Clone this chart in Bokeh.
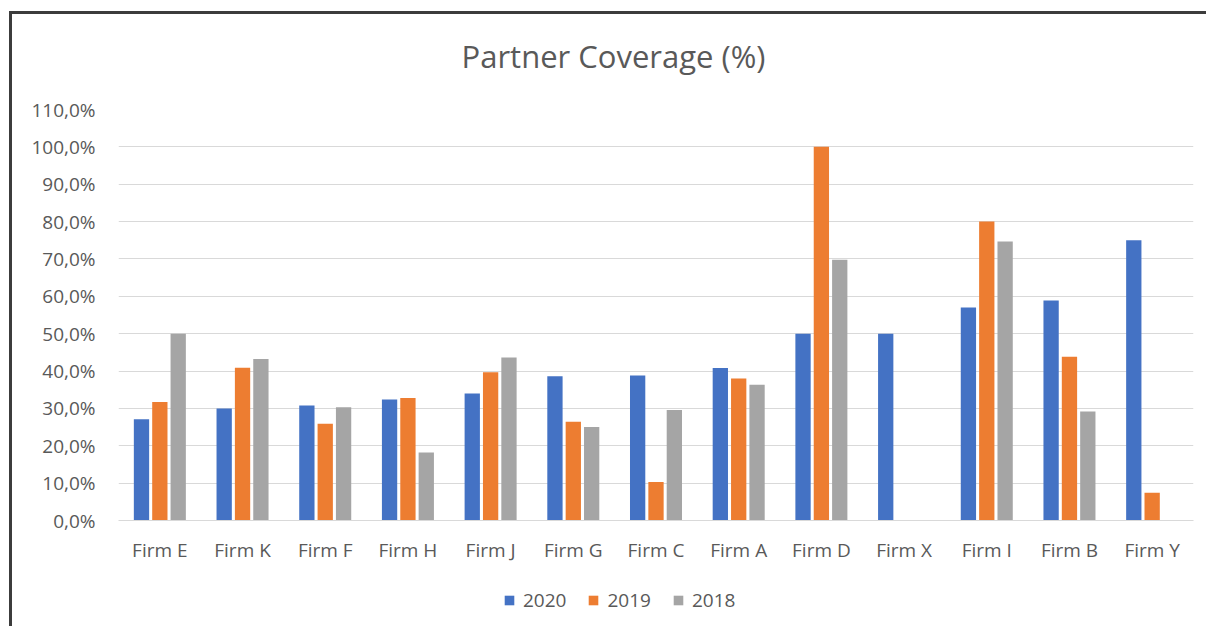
from bokeh.plotting import figure
from bokeh.models import (ColumnDataSource, FixedTicker, CustomJSTickFormatter, Legend,
                          LegendItem, Label, Range1d)
from bokeh.layouts import column
from bokeh.transform import dodge
from bokeh.embed import file_html
from bokeh.resources import INLINE
import math

firms = ["Firm E", "Firm K", "Firm F", "Firm H", "Firm J", "Firm G", "Firm C",
         "Firm A", "Firm D", "Firm X", "Firm I", "Firm B", "Firm Y"]
v2020 = [27.1, 30.0, 30.8, 32.4, 34.0, 38.6, 38.8, 40.8, 50.0, 50.0, 57.0, 58.9, 75.0]
v2019 = [31.7, 40.9, 25.9, 32.8, 39.7, 26.4, 10.3, 38.0, 100.0, math.nan, 80.0, 43.8, 7.4]
v2018 = [50.0, 43.2, 30.3, 18.2, 43.6, 25.0, 29.6, 36.3, 69.8, math.nan, 74.7, 29.2, math.nan]
years = ["2020", "2019", "2018"]
y_ticks = [0, 10, 20, 30, 40, 50, 60, 70, 80, 90, 100, 110]
title_text = "Partner Coverage (%)"

colors = ["#4472C4", "#ED7D31", "#A5A5A5"]
cols = ["y2020", "y2019", "y2018"]
FONT = "Open Sans"
TXT = "#595959"

src = ColumnDataSource(dict(firm=firms, y2020=v2020, y2019=v2019, y2018=v2018))

# ---- title strip
tf = figure(x_range=Range1d(0, 1), y_range=Range1d(0, 1), width=1194, height=80,
            output_backend="svg", toolbar_location=None,
            min_border_left=0, min_border_right=0, min_border_top=0, min_border_bottom=0,
            x_axis_location=None, y_axis_location=None)
tf.outline_line_color = None
tf.grid.grid_line_color = None
tf.add_layout(Label(x=495, y=39, x_units="screen", y_units="screen", text=title_text,
                    text_align="center", text_baseline="middle", text_font=FONT,
                    text_font_size="31px", text_color=TXT))

# ---- main chart
p = figure(x_range=firms, y_range=Range1d(0, 110), width=1194, height=476,
           output_backend="svg", toolbar_location=None,
           min_border_left=106, min_border_right=13, min_border_top=15, min_border_bottom=50)
p.outline_line_color = None

for i, (col, c) in enumerate(zip(cols, colors)):
    p.vbar(x=dodge("firm", (i - 1) * 0.222, range=p.x_range), top=col, width=0.185,
           source=src, fill_color=c, line_color=None)

p.xgrid.grid_line_color = None
p.ygrid.grid_line_color = "#D9D9D9"
p.ygrid.grid_line_width = 1
p.yaxis.ticker = FixedTicker(ticks=y_ticks)
p.yaxis.formatter = CustomJSTickFormatter(code="return tick.toFixed(1).replace('.', ',') + '%';")
p.yaxis.axis_line_color = None
p.yaxis.major_tick_line_color = None
p.yaxis.minor_tick_line_color = None
p.yaxis.major_label_standoff = 17
p.yaxis.major_label_text_font = FONT
p.yaxis.major_label_text_font_size = "19px"
p.yaxis.major_label_text_color = TXT

p.xaxis.axis_line_color = "#D9D9D9"
p.xaxis.major_tick_line_color = None
p.xaxis.minor_tick_line_color = None
p.xaxis.major_label_standoff = 10
p.xaxis.major_label_text_font = FONT
p.xaxis.major_label_text_font_size = "19px"
p.xaxis.major_label_text_color = TXT
p.x_range.range_padding = 0

# ---- legend strip (legend glyphs come from hidden copies of the series)
lf = figure(x_range=p.x_range, y_range=p.y_range, width=1194, height=56,
            output_backend="svg", toolbar_location=None,
            min_border_left=0, min_border_right=0, min_border_top=0, min_border_bottom=0,
            x_axis_location=None, y_axis_location=None)
lf.outline_line_color = None
lf.grid.grid_line_color = None
hidden = []
for col, c in zip(cols, colors):
    r = lf.vbar(x="firm", top=col, width=0.185, source=src, fill_color=c, line_color=None)
    r.visible = False
    hidden.append(r)
legend = Legend(items=[LegendItem(label=y, renderers=[r]) for y, r in zip(years, hidden)],
                orientation="horizontal", location=(385, 13),
                label_text_font=FONT, label_text_font_size="19px", label_text_color=TXT,
                glyph_width=12, glyph_height=12, spacing=21, label_standoff=8,
                border_line_color=None, background_fill_alpha=0, margin=0, padding=0)
lf.add_layout(legend)

layout = column(tf, p, lf, spacing=0)
layout.styles = {"border-left": "3px solid #3c3c3c", "border-top": "3px solid #3c3c3c",
                 "margin-top": "11px", "margin-left": "9px"}

open("out.html", "w").write(file_html(layout, INLINE))
